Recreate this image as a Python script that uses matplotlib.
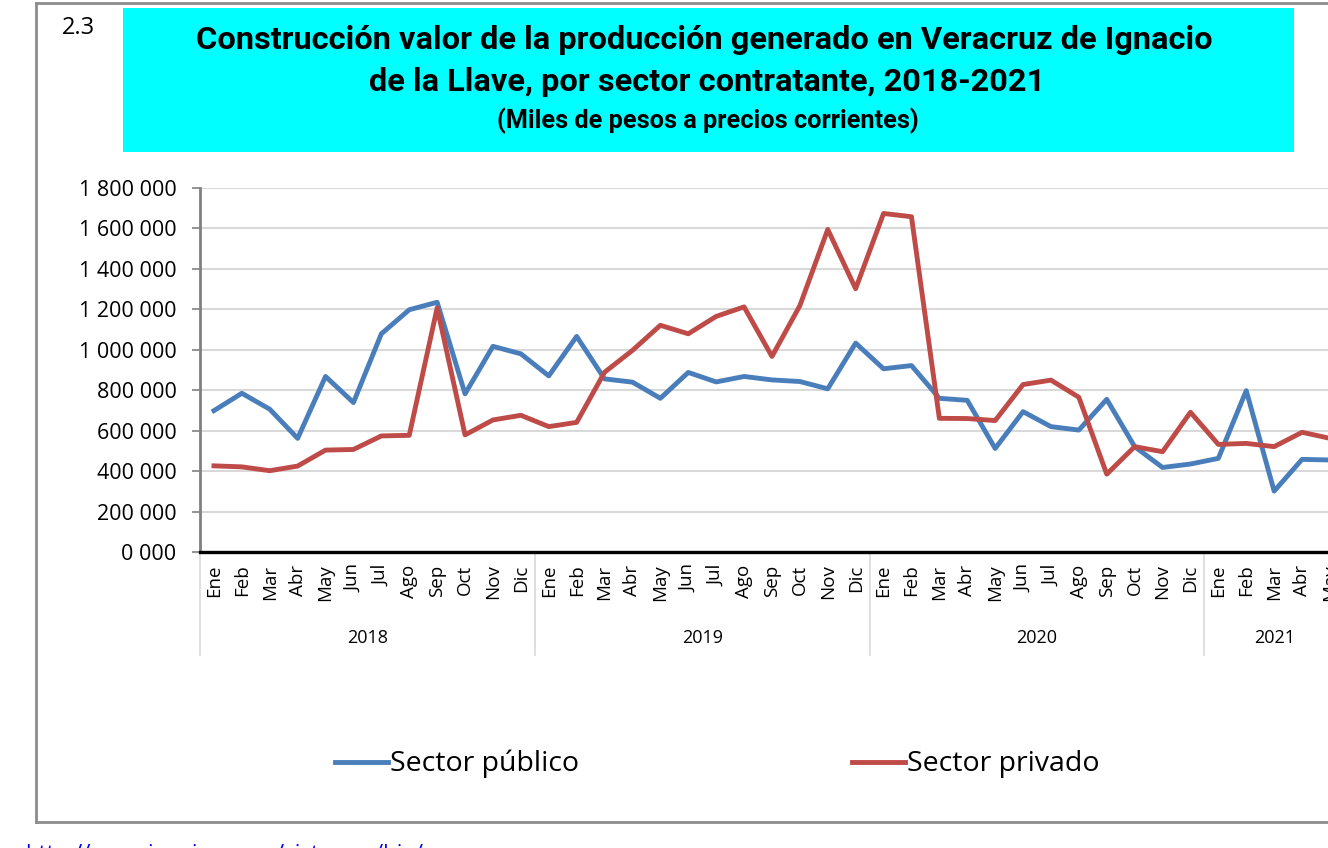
import matplotlib.pyplot as plt
from matplotlib.patches import Rectangle
from matplotlib.lines import Line2D
import matplotlib.transforms as mtransforms

# months and years on the category axis
months = ['Ene', 'Feb', 'Mar', 'Abr', 'May', 'Jun', 'Jul', 'Ago', 'Sep', 'Oct', 'Nov', 'Dic']
years = ['2018', '2019', '2020', '2021']
months_per_year = [12, 12, 12, 5]

# values in miles de pesos
publico = [699000, 785000, 706000, 562000, 868000, 739000, 1079000, 1198000, 1235000, 782000, 1017000, 980000,
           871000, 1066000, 856000, 840000, 760000, 888000, 841000, 868000, 851000, 843000, 807000, 1033000,
           906000, 922000, 760000, 750000, 512000, 694000, 620000, 603000, 755000, 521000, 418000, 435000,
           463000, 798000, 301000, 458000, 455000]
privado = [426000, 421000, 402000, 425000, 504000, 507000, 574000, 577000, 1207000, 579000, 653000, 676000,
           620000, 641000, 889000, 997000, 1121000, 1079000, 1165000, 1212000, 967000, 1218000, 1595000, 1302000,
           1674000, 1658000, 661000, 660000, 650000, 828000, 850000, 765000, 385000, 521000, 496000, 691000,
           532000, 537000, 521000, 592000, 562000]

yticks = [0, 200000, 400000, 600000, 800000, 1000000, 1200000, 1400000, 1600000, 1800000]
ytick_labels = ['0 000', '200 000', '400 000', '600 000', '800 000', '1 000 000',
                '1 200 000', '1 400 000', '1 600 000', '1 800 000']

W, H = 1328, 848
bold = ['Roboto', 'DejaVu Sans']
plain = ['Open Sans', 'DejaVu Sans']

fig = plt.figure(figsize=(W / 100, H / 100), dpi=100)

# outer frame
for xs, ys in [((36, 36), (3, 822)), ((36, W + 10), (3, 3)), ((36, W + 10), (822, 822))]:
    fig.add_artist(Line2D([x / W for x in xs], [1 - y / H for y in ys], color='#8c8c8c', lw=2))

# title box
fig.add_artist(Rectangle((123 / W, 1 - 152 / H), (1294 - 123) / W, 144 / H, facecolor='#00ffff',
                         edgecolor='none'))
fig.text(78 / W, 1 - 28 / H, '2.3', family=plain, fontsize=17, ha='center', va='center')
fig.text(704 / W, 1 - 40 / H, 'Construcción valor de la producción generado en Veracruz de Ignacio',
         family=bold, fontweight='bold', fontsize=23.4, ha='center', va='center')
fig.text(707 / W, 1 - 82 / H, 'de la Llave, por sector contratante, 2018-2021',
         family=bold, fontweight='bold', fontsize=23.4, ha='center', va='center')
fig.text(708 / W, 1 - 121 / H, '(Miles de pesos a precios corrientes)',
         family=bold, fontweight='bold', fontsize=18.2, ha='center', va='center')

n = sum(months_per_year)
ax = fig.add_axes([200 / W, 1 - 552 / H, (n * 27.9) / W, 364 / H])
x = list(range(len(publico)))
ax.plot(x, publico, color='#4a7ebb', lw=3.5, zorder=3, clip_on=False)
ax.plot(x, privado, color='#be4b48', lw=3.5, zorder=3, clip_on=False)

ax.set_xlim(-0.5, n - 0.5)
ax.set_ylim(0, 1800000)
ax.set_yticks(yticks)
ax.set_yticklabels(ytick_labels, family=plain, fontsize=15.5)
ax.yaxis.grid(True, color='#d9d9d9', lw=1.5)
ax.set_axisbelow(True)
ax.tick_params(axis='y', length=6, color='#808080', width=1.2, pad=11)
for s in ['top', 'right']:
    ax.spines[s].set_visible(False)
ax.spines['left'].set_color('#808080')
ax.spines['left'].set_linewidth(2)
ax.spines['bottom'].set_color('black')
ax.spines['bottom'].set_linewidth(2.4)

labels = []
for cnt in months_per_year:
    labels += months[:cnt]
ax.set_xticks(x)
ax.set_xticklabels(labels, rotation=90, family=plain, fontsize=13.5, va='top')
ax.tick_params(axis='x', length=0, pad=9)

trans = mtransforms.blended_transform_factory(ax.transData, fig.transFigure)
start = 0
for yr, cnt in zip(years, months_per_year):
    ax.add_artist(Line2D([start - 0.5, start - 0.5], [1 - 552 / H, 1 - 655 / H], color='#d9d9d9',
                         lw=1.2, transform=trans, clip_on=False))
    ax.text(start + (cnt - 1) / 2, 1 - 638 / H, yr, transform=trans, family=plain, fontsize=13,
            ha='center', va='center')
    start += cnt

# legend
fig.add_artist(Line2D([335 / W, 388 / W], [1 - 762 / H, 1 - 762 / H], color='#4a7ebb', lw=3.5))
fig.text(390 / W, 1 - 764 / H, 'Sector público', family=plain, fontsize=20.5, va='center')
fig.add_artist(Line2D([852 / W, 905 / W], [1 - 762 / H, 1 - 762 / H], color='#be4b48', lw=3.5))
fig.text(907 / W, 1 - 764 / H, 'Sector privado', family=plain, fontsize=20.5, va='center')

fig.text(25 / W, 1 - 860 / H, 'http://www.inegi.org.mx/sistemas/bie/', family=plain, fontsize=16,
         color='#0000ff', va='baseline')

fig.savefig('out.png', dpi=100)
plt.close(fig)
